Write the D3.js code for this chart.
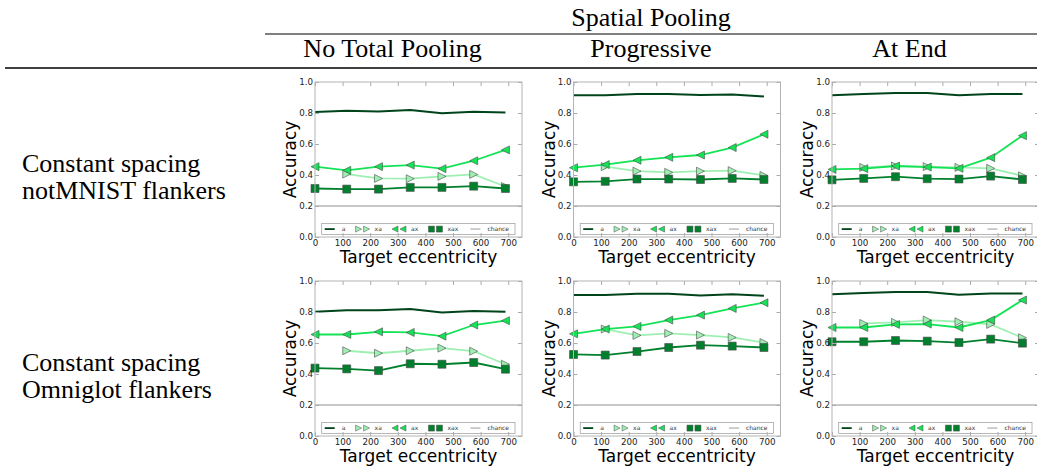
<!DOCTYPE html>
<html>
<head>
<meta charset="utf-8">
<script src="https://cdn.jsdelivr.net/npm/d3@7"></script>
<style>
  body { margin: 0; background: #fff; }
  svg { display: block; }
</style>
</head>
<body>
<div id="graph"></div>
<script>
// x positions of the targets, shared by every panel
var eccentricity = [0, 115, 230, 345, 460, 575, 690]
var xTicks = [0, 100, 200, 300, 400, 500, 600, 700]
var yTicks = [0, 0.2, 0.4, 0.6, 0.8, 1.0]
var chance = 0.2

var columns = ['No Total Pooling', 'Progressive', 'At End']
var rows = [
  ['Constant spacing', 'notMNIST flankers'],
  ['Constant spacing', 'Omniglot flankers'],
]

// notMNIST flankers
var notmnistNone = {
  a: [0.806, 0.814, 0.810, 0.819, 0.799, 0.808, 0.803],
  xa: [null, 0.406, 0.378, 0.376, 0.391, 0.404, 0.326],
  ax: [0.454, 0.430, 0.454, 0.464, 0.441, 0.492, 0.562],
  xax: [0.313, 0.309, 0.309, 0.320, 0.320, 0.328, 0.313],
}
var notmnistProg = {
  a: [0.914, 0.914, 0.922, 0.922, 0.916, 0.920, 0.907],
  xa: [null, 0.454, 0.425, 0.417, 0.425, 0.428, 0.397],
  ax: [0.447, 0.467, 0.495, 0.514, 0.529, 0.577, 0.663],
  xax: [0.356, 0.359, 0.374, 0.374, 0.371, 0.378, 0.371],
}
var notmnistEnd = {
  a: [0.914, 0.922, 0.929, 0.929, 0.914, 0.922, 0.922],
  xa: [null, 0.449, 0.458, 0.454, 0.449, 0.443, 0.395],
  ax: [0.436, 0.441, 0.458, 0.451, 0.443, 0.512, 0.654],
  xax: [0.369, 0.378, 0.389, 0.376, 0.374, 0.393, 0.371],
}
// Omniglot flankers
var omniNone = {
  a: [0.802, 0.812, 0.812, 0.819, 0.797, 0.806, 0.802],
  xa: [null, 0.550, 0.534, 0.550, 0.567, 0.547, 0.463],
  ax: [0.655, 0.655, 0.672, 0.668, 0.644, 0.716, 0.744],
  xax: [0.438, 0.433, 0.422, 0.466, 0.463, 0.474, 0.431],
}
var omniProg = {
  a: [0.909, 0.909, 0.918, 0.918, 0.907, 0.914, 0.905],
  xa: [null, 0.690, 0.649, 0.662, 0.651, 0.636, 0.603],
  ax: [0.659, 0.690, 0.707, 0.748, 0.780, 0.823, 0.860],
  xax: [0.526, 0.522, 0.545, 0.571, 0.586, 0.580, 0.571],
}
var omniEnd = {
  a: [0.914, 0.922, 0.929, 0.929, 0.912, 0.920, 0.920],
  xa: [null, 0.726, 0.733, 0.748, 0.737, 0.720, 0.634],
  ax: [0.700, 0.700, 0.720, 0.722, 0.700, 0.748, 0.877],
  xax: [0.608, 0.608, 0.616, 0.612, 0.603, 0.625, 0.599],
}

var panels = [
  [notmnistNone, notmnistProg, notmnistEnd],
  [omniNone, omniProg, omniEnd],
]

var series = [
  { key: 'a', color: '#00441b', marker: null },
  { key: 'xa', color: '#9ef0b2', marker: 'right' },
  { key: 'ax', color: '#14e356', marker: 'left' },
  { key: 'xax', color: '#00802d', marker: 'square' },
]

var W = 1037, H = 467
var pw = 207, ph = 155
var left0 = 315, top0 = 82, colStep = 258.5, rowStep = 199

var serif = "'Liberation Serif', 'Times New Roman', serif"
var sans = "'DejaVu Sans', sans-serif"

var svg = d3.select('#graph').append('svg').attr('width', W).attr('height', H)

var x = d3.scaleLinear().domain([0, 750]).range([0, pw])
var y = d3.scaleLinear().domain([0, 1]).range([ph, 0])

function markerPath(type, r) {
  if (type == 'right') return 'M' + r + ',0L' + -r + ',' + -r + 'L' + -r + ',' + r + 'Z'
  if (type == 'left') return 'M' + -r + ',0L' + r + ',' + -r + 'L' + r + ',' + r + 'Z'
  return 'M' + -r + ',' + -r + 'H' + r + 'V' + r + 'H' + -r + 'Z'
}

// table header
svg.append('text')
  .attr('x', (265 + W) / 2).attr('y', 26)
  .attr('text-anchor', 'middle')
  .style('font-family', serif).style('font-size', '26px')
  .text('Spatial Pooling')
svg.append('line').attr('x1', 265).attr('x2', W).attr('y1', 34).attr('y2', 34)
  .attr('stroke', '#000').attr('stroke-width', 1)
svg.append('line').attr('x1', 5).attr('x2', W).attr('y1', 68).attr('y2', 68)
  .attr('stroke', '#000').attr('stroke-width', 1.6)

columns.forEach(function(c, i) {
  svg.append('text')
    .attr('x', left0 + i * colStep + pw / 2 - 26).attr('y', 57)
    .attr('text-anchor', 'middle')
    .style('font-family', serif).style('font-size', '26px')
    .text(c)
})

rows.forEach(function(r, j) {
  var t = svg.append('text')
    .style('font-family', serif).style('font-size', '26px')
  r.forEach(function(line, k) {
    t.append('tspan').attr('x', 22).attr('y', top0 + j * rowStep + 90 + k * 27).text(line)
  })
})

panels.forEach(function(row, j) {
  row.forEach(function(vals, i) {
    var g = svg.append('g')
      .attr('transform', 'translate(' + (left0 + i * colStep) + ',' + (top0 + j * rowStep) + ')')
    drawPanel(g, vals)
  })
})

function drawPanel(g, vals) {
  g.append('rect').attr('width', pw).attr('height', ph).attr('fill', '#fff')

  // chance level
  g.append('line')
    .attr('x1', 0).attr('x2', pw).attr('y1', y(chance)).attr('y2', y(chance))
    .attr('stroke', '#c8c8c8').attr('stroke-width', 1.8)

  var line = d3.line()
    .defined(d => d.v != null)
    .x(d => x(d.e))
    .y(d => y(d.v))

  series.forEach(function(s) {
    var pts = eccentricity.map((e, k) => ({ e: e, v: vals[s.key][k] }))
    g.append('path').datum(pts)
      .attr('d', line)
      .attr('fill', 'none')
      .attr('stroke', s.color)
      .attr('stroke-width', s.key == 'a' ? 2 : 1.8)
    if (s.marker) {
      g.selectAll(null).data(pts.filter(d => d.v != null)).enter().append('path')
        .attr('transform', d => 'translate(' + x(d.e) + ',' + y(d.v) + ')')
        .attr('d', markerPath(s.marker, 4))
        .attr('fill', s.color)
        .attr('stroke', '#4a4a4a')
        .attr('stroke-width', 0.6)
    }
  })

  drawLegend(g)

  // frame and inward ticks
  var axes = [
    d3.axisBottom(x).tickValues(xTicks).tickSize(-4).tickPadding(2.5),
    d3.axisTop(x).tickValues(xTicks).tickSize(-4).tickFormat(''),
    d3.axisLeft(y).tickValues(yTicks).tickSize(-4).tickPadding(2).tickFormat(d3.format('.1f')),
    d3.axisRight(y).tickValues(yTicks).tickSize(-4).tickFormat(''),
  ]
  var shifts = ['0,' + ph, '0,0', '0,0', pw + ',0']
  axes.forEach(function(ax, k) {
    var a = g.append('g').attr('transform', 'translate(' + shifts[k] + ')').call(ax)
    a.select('.domain').remove()
    a.selectAll('line').attr('stroke', '#aaa')
    a.selectAll('text').style('font-family', sans).style('font-size', '8.7px').attr('fill', '#222')
  })
  g.append('rect').attr('width', pw).attr('height', ph)
    .attr('fill', 'none').attr('stroke', '#b4b4b4').attr('stroke-width', 1)

  g.append('text')
    .attr('x', pw / 2).attr('y', ph + 25.5)
    .attr('text-anchor', 'middle')
    .style('font-family', sans).style('font-size', '17px')
    .text('Target eccentricity')
  g.append('text')
    .attr('transform', 'translate(-19,' + ph / 2 + ') rotate(-90)')
    .attr('text-anchor', 'middle')
    .style('font-family', sans).style('font-size', '17px')
    .text('Accuracy')
}

function drawLegend(g) {
  var entries = series.concat([{ key: 'chance', color: '#c8c8c8', marker: null }])
  var lx = 6.7, lw = pw - 13.7, lh = 11, ly = ph - 2.4 - lh
  var box = g.append('g').attr('transform', 'translate(' + lx + ',' + ly + ')')
  box.append('rect').attr('width', lw).attr('height', lh)
    .attr('fill', '#fff').attr('stroke', '#999').attr('stroke-width', 0.7)

  var texts = entries.map(function(e) {
    return box.append('text').attr('y', lh / 2).attr('dy', '0.35em')
      .style('font-family', sans).style('font-size', '6px').attr('fill', '#333')
      .text(e.key)
  })
  var widths = texts.map(t => t.node().getComputedTextLength())
  // columns spread over the whole box, like an expanded legend
  var first = 8, toText = 12, padR = 6
  var gap = (lw - first - entries.length * toText - d3.sum(widths) - padR) / (entries.length - 1)
  var hc = first
  entries.forEach(function(e, k) {
    var cy = lh / 2
    if (e.marker) {
      ;[-4, 4].forEach(function(dx) {
        box.append('path')
          .attr('transform', 'translate(' + (hc + dx) + ',' + cy + ')')
          .attr('d', markerPath(e.marker, 3))
          .attr('fill', e.color).attr('stroke', '#4a4a4a').attr('stroke-width', 0.5)
      })
    } else {
      box.append('line').attr('x1', hc - 5).attr('x2', hc + 5).attr('y1', cy).attr('y2', cy)
        .attr('stroke', e.color).attr('stroke-width', 1.8)
    }
    texts[k].attr('x', hc + toText)
    hc += toText + widths[k] + gap
  })
}
</script>
</body>
</html>
